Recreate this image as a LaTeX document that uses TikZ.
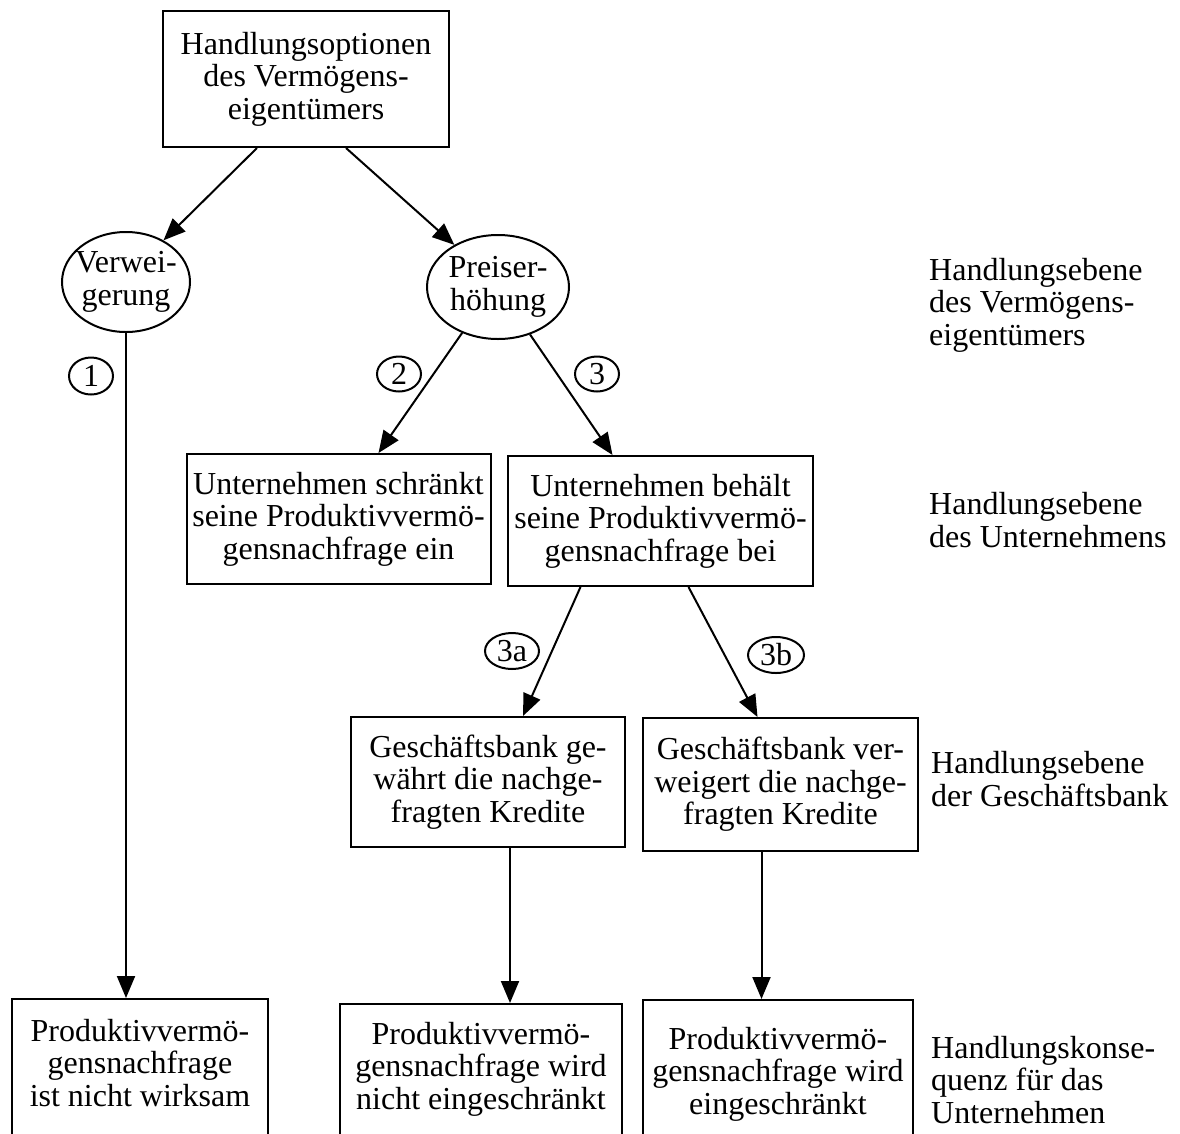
\documentclass[tikz,border=0pt]{standalone}
\usepackage{fontspec}
\setmainfont{Liberation Serif}
\usetikzlibrary{shapes.geometric,arrows.meta,calc}
\begin{document}
\begin{tikzpicture}[x=1pt,y=-1pt,
  every node/.style={font=\fontsize{32}{32.5}\selectfont, inner sep=0pt},
  box/.style={draw, line width=2pt, align=center},
  oval/.style={draw, ellipse, line width=2pt},
  txt/.style={align=center},
  side/.style={align=left, anchor=west},
  arr/.style={line width=2pt, -{Triangle[length=22pt,width=18pt]}}]
\useasboundingbox (0,0) rectangle (1180,1133);
% top
\node[box, minimum width=286, minimum height=136] (top) at (306,79)
  {Handlungsoptionen\\des Vermögens-\\eigentümers};
% ellipses
\node[oval, minimum width=128, minimum height=100] (verw) at (126,282) {};
\node[txt] at (verw) {Verwei-\\gerung};
\node[oval, minimum width=142, minimum height=104] (preis) at (498,287) {};
\node[txt] at (preis) {Preiser-\\höhung};
% middle boxes
\node[box, minimum width=304, minimum height=130] (b2) at (338.5,519)
  {Unternehmen schränkt\\seine Produktivvermö-\\gensnachfrage ein};
\node[box, minimum width=305, minimum height=130] (b3) at (660.5,521)
  {Unternehmen behält\\seine Produktivvermö-\\gensnachfrage bei};
\node[box, minimum width=274, minimum height=130] (g1) at (488,782)
  {Geschäftsbank ge-\\währt die nachge-\\fragten Kredite};
\node[box, minimum width=275, minimum height=133] (g2) at (780.5,784.5)
  {Geschäftsbank ver-\\weigert die nachge-\\fragten Kredite};
% bottom boxes (cut off by the page edge)
\begin{scope}
\clip (0,0) rectangle (1180,1133);
\node[box, minimum width=256, minimum height=200, anchor=north] (p1) at (140,998) {};
\node[box, minimum width=282, minimum height=200, anchor=north] (p2) at (481,1003) {};
\node[box, minimum width=270, minimum height=200, anchor=north] (p3) at (778,999) {};
\end{scope}
\node[txt] (p1t) at ($(p1.north)+(0,65)$)
  {Produktivvermö-\\gensnachfrage\\ist nicht wirksam};
\node[txt] (p2t) at ($(p2.north)+(0,66)$)
  {Produktivvermö-\\gensnachfrage wird\\nicht eingeschränkt};
\node[txt] (p3t) at ($(p3.north)+(0,75)$)
  {Produktivvermö-\\gensnachfrage wird\\eingeschränkt};
% circled numbers
\node[oval, minimum width=44, minimum height=37] (c1) at (91,376) {1};
\node[oval, minimum width=44, minimum height=35] (c2) at (399,374) {2};
\node[oval, minimum width=44, minimum height=35] (c3) at (597,374) {3};
\node[oval, minimum width=54, minimum height=36] (c3a) at (512,651) {3a};
\node[oval, minimum width=56, minimum height=36] (c3b) at (776,655) {3b};
% side labels
\node[side] (l1) at (929,305) {Handlungsebene\\des Vermögens-\\eigentümers};
\node[side] (l2) at (929,520) {Handlungsebene\\des Unternehmens};
\node[side] (l3) at (931,779) {Handlungsebene\\der Geschäftsbank};
\node[side] (l4) at (931,1080) {Handlungskonse-\\quenz für das\\Unternehmen};
% connectors
\draw[arr] ($(top.south)+(-49,0)$) -- (verw.48);
\draw[arr] ($(top.south)+(40,0)$) -- (preis.136);
\draw[arr] (verw.south) -- (verw.south |- p1.north);
\draw[arr] (preis.232) -- ($(b2.north)+(40,0)$);
\draw[arr] (preis.304) -- ($(b3.north)+(-48,0)$);
\draw[arr] ($(b3.south)+(-80,0)$) -- ($(g1.north)+(35,0)$);
\draw[arr] ($(b3.south)+(28,0)$) -- ($(g2.north)+(-23,0)$);
\coordinate (s1) at ($(g1.south)+(22,0)$);
\coordinate (s2) at ($(g2.south)+(-19,0)$);
\draw[arr] (s1) -- (s1 |- p2.north);
\draw[arr] (s2) -- (s2 |- p3.north);
\end{tikzpicture}
\end{document}
